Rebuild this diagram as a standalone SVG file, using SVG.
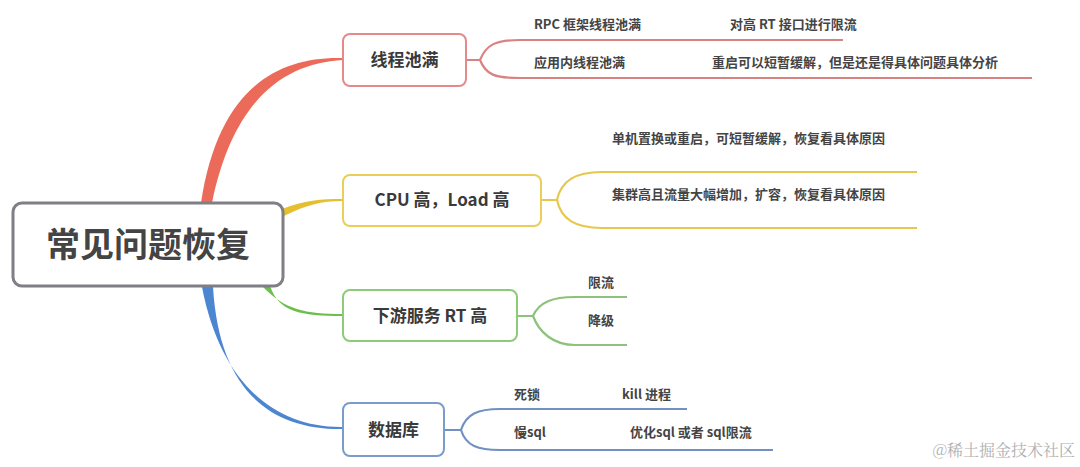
<svg xmlns="http://www.w3.org/2000/svg" width="1080" height="467" viewBox="0 0 1080 467">
<style>
text{font-family:"Noto Sans CJK SC","Noto Sans",sans-serif;fill:#3a3a3a}
.root{font-size:34px;font-weight:700;fill:#444}
.n{font-size:17px;font-weight:700}
.s{font-size:13px;font-weight:700;fill:#444}
.box{fill:#fff;stroke-width:2}
.sub{fill:none;stroke-width:2.2}
.wm{font-family:"Noto Serif CJK SC","Liberation Serif",serif;font-size:16px;fill:#b0b0b0;font-weight:400}
</style>
<rect width="1080" height="467" fill="#fff"/>
<g id="connectors">
<path d="M201,203 C218,90 276,56 343,58 L343,60 C284,63 233,100 212,203 Z" fill="#ec6a5a"/>
<path d="M282,209 C305,200 320,199 343,199 L343,201 C321,201 306,205 284,216 Z" fill="#e5bf2e"/>
<path d="M262,286 C285,310 305,314 343,314 L343,316 C300,316 279,312 270,286 Z" fill="#6cbf4c"/>
<path d="M202,287 C220,380 272,428 343,427 L343,429 C266,430 219,386 213,287 Z" fill="#4d86d0"/>
<path class="sub" stroke="#d98282" d="M466,60 L480,60 C486,45 495,40 520,40 L843,40 M480,60 C486,75 495,78 520,78 L1032,78"/>
<path class="sub" stroke="#e7c84e" d="M541,200 L557,200 C561,181 575,172 602,172 L917,172 M557,200 C561,219 575,228 602,228 L917,228"/>
<path class="sub" stroke="#8cc27a" d="M517,316 L533,316 C539,302 553,297 575,297 L627,297 M533,316 C539,332 553,345 575,345 L627,345"/>
<path class="sub" stroke="#7191c2" d="M444,430 L461,430 C466,414 478,409 500,409 L687,409 M461,430 C466,446 478,450 500,450 L773,450"/>
</g>
<g id="root">
<rect x="13" y="203" width="270" height="83" rx="9" fill="#fff" stroke="#7f7f86" stroke-width="3"/>
<text class="root" x="148" y="257" text-anchor="middle">常见问题恢复</text>
</g>
<g id="n1">
<rect class="box" x="343" y="34" width="123" height="52" rx="7" stroke="#e58a8a"/>
<text class="n" x="404.5" y="66" text-anchor="middle">线程池满</text>
</g>
<g id="n1a"><text class="s" x="534" y="29">RPC 框架线程池满</text></g>
<g id="n1b"><text class="s" x="730" y="29">对高 RT 接口进行限流</text></g>
<g id="n1c"><text class="s" x="534" y="67">应用内线程池满</text></g>
<g id="n1d"><text class="s" x="712" y="67">重启可以短暂缓解，但是还是得具体问题具体分析</text></g>
<g id="n2">
<rect class="box" x="343" y="175" width="198" height="51" rx="7" stroke="#e9cf5a"/>
<text class="n" x="442" y="206" text-anchor="middle">CPU 高，Load 高</text>
</g>
<g id="n2a"><text class="s" x="612" y="143">单机置换或重启，可短暂缓解，恢复看具体原因</text></g>
<g id="n2b"><text class="s" x="612" y="199">集群高且流量大幅增加，扩容，恢复看具体原因</text></g>
<g id="n3">
<rect class="box" x="343" y="290" width="174" height="51" rx="7" stroke="#8ccb78"/>
<text class="n" x="430" y="322" text-anchor="middle">下游服务 RT 高</text>
</g>
<g id="n3a"><text class="s" x="588" y="287">限流</text></g>
<g id="n3b"><text class="s" x="588" y="325">降级</text></g>
<g id="n4">
<rect class="box" x="343" y="403" width="101" height="53" rx="7" stroke="#7a9ccc"/>
<text class="n" x="393.5" y="436" text-anchor="middle">数据库</text>
</g>
<g id="n4a"><text class="s" x="514" y="399">死锁</text></g>
<g id="n4b"><text class="s" x="622" y="399">kill 进程</text></g>
<g id="n4c"><text class="s" x="514" y="437">慢sql</text></g>
<g id="n4d"><text class="s" x="630" y="437">优化sql 或者 sql限流</text></g>
<text class="wm" x="1075" y="456" text-anchor="end">@稀土掘金技术社区</text>
</svg>
